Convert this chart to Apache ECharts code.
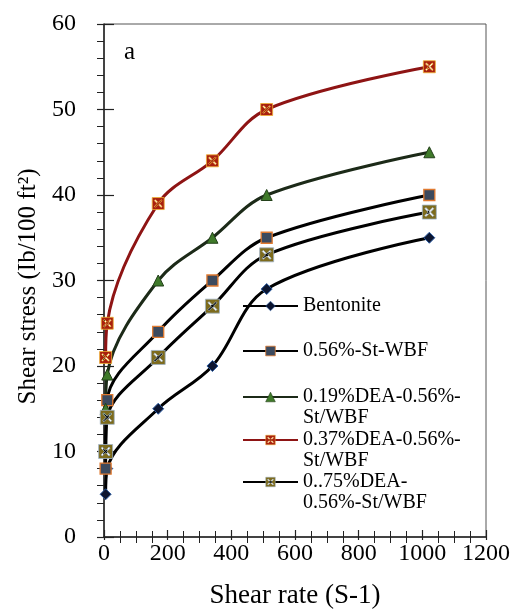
<!DOCTYPE html>
<html><head><meta charset="utf-8">
<script src="https://cdn.jsdelivr.net/npm/echarts@6/dist/echarts.min.js"></script>
<style>html,body{margin:0;padding:0;background:#fff}#c{width:518px;height:610px}</style>
</head><body><div id="c"></div>
<script>
const shearRate = [5.11, 10.22, 170.3, 340.6, 511, 1022];
const seriesNames = ['Bentonite', '0.56%-St-WBF', '0.19%DEA-0.56%-\nSt/WBF', '0.37%DEA-0.56%-\nSt/WBF', '0..75%DEA-\n0.56%-St/WBF'];
const bentonite = [5, 8, 15, 20, 29, 35];
const st056 = [8, 16, 24, 30, 35, 40];
const dea019 = [15, 19, 30, 35, 40, 45];
const dea037 = [21, 25, 39, 44, 50, 55];
const dea075 = [10, 14, 21, 27, 33, 38];
const xTicks = [0, 200, 400, 600, 800, 1000, 1200];
const yTicks = [0, 10, 20, 30, 40, 50, 60];

const F = 'Liberation Serif, Times New Roman, serif';
const values = [bentonite, st056, dea019, dea037, dea075];
const XSQ = 'path://M0,0L10,0L10,10L0,10Z M1.8,2.6L4.2,5L1.8,7.4L2.6,8.2L5,5.8L7.4,8.2L8.2,7.4L5.8,5L8.2,2.6L7.4,1.8L5,4.2L2.6,1.8Z';
const styles = [
  {line:'#000', sym:'diamond', size:11, fill:'#0c1530', border:'#2a5aa0', bw:1},
  {line:'#000', sym:'rect', size:11, fill:'#3c4a5e', border:'#e07a30', bw:1.3},
  {line:'#1c2a18', sym:'triangle', size:11, fill:'#3f7a2a', border:'#23401a', bw:1},
  {line:'#8e1414', sym:XSQ, size:12, fill:'#a82010', border:'#f0b030', bw:0.8},
  {line:'#000', sym:XSQ, size:14, fill:'#7d6b1c', border:'#9fb4c8', bw:0.8}
];
const series = values.map((v, i) => ({
  name: seriesNames[i], type: 'line', smooth: 0.35,
  data: shearRate.map((x, j) => [x, v[j]]),
  symbol: styles[i].sym, symbolSize: styles[i].size,
  lineStyle: {color: styles[i].line, width: 3},
  itemStyle: {color: styles[i].fill, borderColor: styles[i].border, borderWidth: styles[i].bw},
  z: 3 + (i === 3 ? 1 : 0)
}));
const legendCenters = [306, 351, 397, 440, 482];
const legends = seriesNames.map((n, i) => {
  const multi = n.indexOf('\n') >= 0;
  return {
    data: [n], orient: 'vertical', left: 242, padding: 0,
    top: multi ? legendCenters[i] - 31.5 : legendCenters[i] - 10.5,
    itemWidth: 55, itemHeight: 12, itemGap: 0,
    itemStyle: {borderWidth: styles[i].bw * 0.6},
    formatter: nm => multi ? '\u00a0\n' + nm : nm,
    textStyle: {fontFamily: F, fontSize: 20, color: '#000', lineHeight: 21},
    selectedMode: false
  };
});
const chart = echarts.init(document.getElementById('c'));
chart.setOption({
  animation: false,
  backgroundColor: '#fff',
  grid: {left: 104, right: 32, top: 24, bottom: 73, show: true, borderColor: '#555', borderWidth: 1, containLabel: false, outerBoundsMode: 'none'},
  legend: legends,
  xAxis: [{
    type: 'value', min: xTicks[0], max: xTicks[xTicks.length-1], interval: 200,
    name: 'Shear rate (S-1)', nameLocation: 'middle', nameGap: 45,
    nameTextStyle: {fontFamily: F, fontSize: 27, color: '#000'},
    axisLine: {show: true, lineStyle: {color: '#222', width: 1.5}},
    axisTick: {show: true, inside: false, length: 3, lineStyle: {color: '#222', width: 1.2}},
    minorTick: {show: true, splitNumber: 4, length: 6, lineStyle: {color: '#222', width: 1}},
    splitLine: {show: false},
    axisLabel: {fontFamily: F, fontSize: 24, color: '#000', margin: 5, formatter: v => xTicks.includes(v) ? String(v) : ''}
  }, {
    type: 'value', min: 0, max: 1200, interval: 200, position: 'bottom',
    axisLine: {show: false}, axisTick: {show: true, inside: true, length: 7, lineStyle: {color: '#222', width: 1.2}},
    minorTick: {show: true, inside: true, splitNumber: 4, length: 6, lineStyle: {color: '#222', width: 1}},
    axisLabel: {show: false}, splitLine: {show: false}
  }],
  yAxis: [{
    type: 'value', min: yTicks[0], max: yTicks[yTicks.length-1], interval: 10,
    name: 'Shear stress (Ib/100 ft²)', nameLocation: 'middle', nameGap: 62,
    nameTextStyle: {fontFamily: F, fontSize: 25, color: '#000', padding: [0, 12, 0, 0]},
    axisLine: {show: true, lineStyle: {color: '#222', width: 1.5}},
    axisTick: {show: true, length: 7, lineStyle: {color: '#222', width: 1.2}},
    minorTick: {show: true, splitNumber: 5, length: 7, lineStyle: {color: '#222', width: 1}},
    splitLine: {show: false},
    axisLabel: {fontFamily: F, fontSize: 24, color: '#000', margin: 28, formatter: v => yTicks.includes(v) ? String(v) : ''}
  }, {
    type: 'value', min: 0, max: 60, interval: 10, position: 'left',
    axisLine: {show: false}, axisTick: {show: true, inside: true, length: 10, lineStyle: {color: '#222', width: 1.2}},
    axisLabel: {show: false}, splitLine: {show: false}
  }],
  graphic: [{type: 'text', left: 124, top: 40, style: {text: 'a', font: '25px ' + F, fill: '#000'}}],
  series: series
});
</script></body></html>
